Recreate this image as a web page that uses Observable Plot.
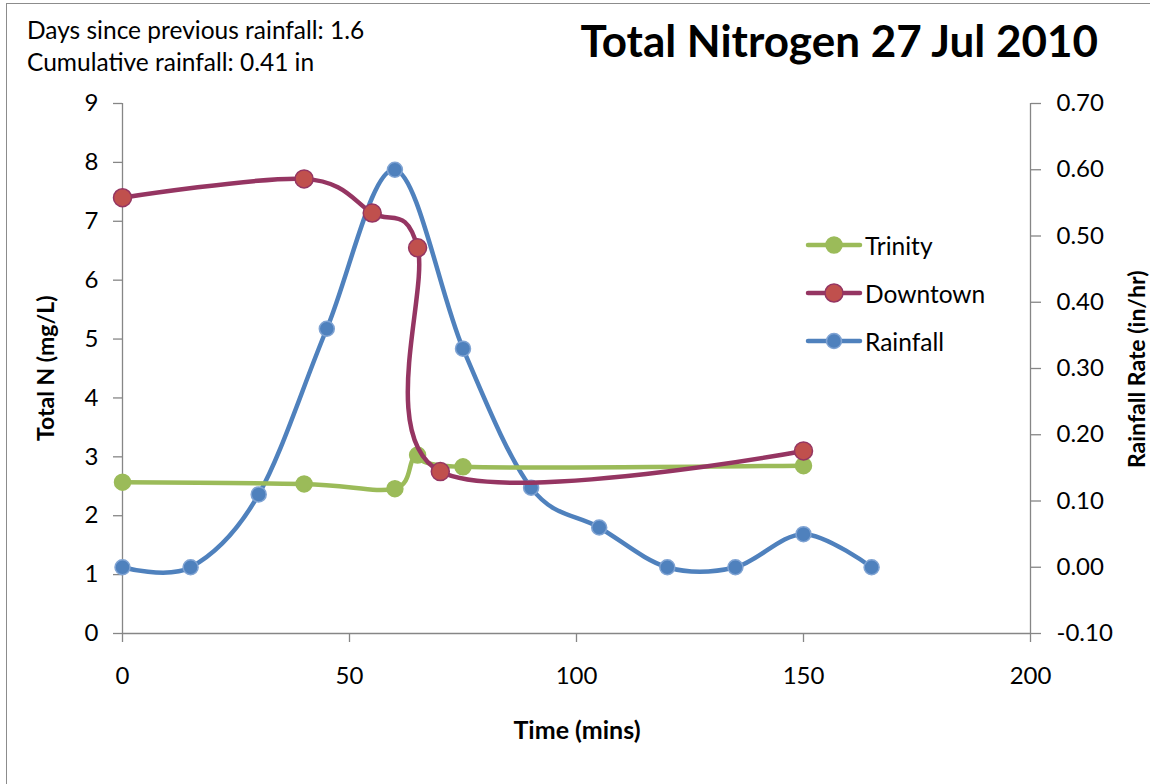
<!DOCTYPE html>
<html>
<head>
<meta charset="utf-8">
<script src="https://cdn.jsdelivr.net/npm/d3@7"></script>
<script src="https://cdn.jsdelivr.net/npm/@observablehq/plot@0.6"></script>
<style>
  html, body { margin: 0; padding: 0; background: #fff; }
  #wrap { position: relative; width: 1150px; height: 784px; overflow: hidden; background: #fff; font-family: Lato, "Open Sans", sans-serif; color: #000; }
  #border { position: absolute; left: 6px; top: 3px; width: 1200px; height: 900px; border: 1.5px solid #8c8c8c; box-sizing: border-box; }
  #chart { position: absolute; left: 0; top: 0; }
  #notes { position: absolute; left: 27px; top: 14px; font-size: 24.5px; line-height: 32px; white-space: nowrap; }
  #title { position: absolute; right: 52px; top: 14px; font-size: 44px; font-weight: bold; white-space: nowrap; }
  .ylab { position: absolute; top: 370px; font-size: 23px; line-height: 1; font-weight: bold; white-space: nowrap; transform-origin: 0 0; }
  #xlab { position: absolute; left: 577px; top: 714px; transform: translateX(-50%); font-size: 25px; font-weight: bold; white-space: nowrap; }
  #legend { position: absolute; left: 805px; top: 221px; }
  .lrow { display: flex; align-items: center; height: 48px; font-size: 24.5px; }
  .lrow svg { margin-right: 2px; }
</style>
</head>
<body>
<div id="wrap">
  <div id="border"></div>
  <div id="chart"></div>
  <div id="notes"></div>
  <div id="title"></div>
  <div id="ylabL" class="ylab"></div>
  <div id="ylabR" class="ylab"></div>
  <div id="xlab"></div>
  <div id="legend"></div>
</div>
<script>
// ---- Data ----
const titleText = "Total Nitrogen 27 Jul 2010";
const notesText = ["Days since previous rainfall: 1.6", "Cumulative rainfall: 0.41 in"];
const xLabel = "Time (mins)";
const yLabelLeft = "Total N (mg/L)";
const yLabelRight = "Rainfall Rate (in/hr)";

const seriesNames = ["Trinity", "Downtown", "Rainfall"];

const trinityTime = [0, 40, 60, 65, 75, 150];
const trinityN    = [2.57, 2.54, 2.46, 3.03, 2.83, 2.85];

const downtownTime = [0, 40, 55, 65, 70, 150];
const downtownN    = [7.40, 7.72, 7.14, 6.55, 2.75, 3.10];

const rainTime = [0, 15, 30, 45, 60, 75, 90, 105, 120, 135, 150, 165];
const rainRate = [0.00, 0.00, 0.11, 0.36, 0.60, 0.33, 0.12, 0.06, 0.00, 0.00, 0.05, 0.00];

const xTicks = [0, 50, 100, 150, 200];
const yTicksLeft = [0, 1, 2, 3, 4, 5, 6, 7, 8, 9];
const yTicksRight = [-0.10, 0.00, 0.10, 0.20, 0.30, 0.40, 0.50, 0.60, 0.70];

// ---- Styles ----
const colors = {
  Trinity:  { line: "#9BBB59", fill: "#9BBB59", stroke: "#9BBB59", r: 8 },
  Downtown: { line: "#953562", fill: "#C0504D", stroke: "#953562", r: 9 },
  Rainfall: { line: "#4F81BD", fill: "#4F81BD", stroke: "#7FA3D3", r: 7.5 }
};

// secondary axis mapping (right axis -0.10..0.70 onto left 0..9)
const leftMin = yTicksLeft[0], leftMax = yTicksLeft[yTicksLeft.length - 1];
const rightMin = yTicksRight[0], rightMax = yTicksRight[yTicksRight.length - 1];
const toLeft = r => leftMin + (r - rightMin) / (rightMax - rightMin) * (leftMax - leftMin);
const fromLeft = v => rightMin + (v - leftMin) / (leftMax - leftMin) * (rightMax - rightMin);

const trinity = trinityTime.map((t, i) => ({ t, v: trinityN[i] }));
const downtown = downtownTime.map((t, i) => ({ t, v: downtownN[i] }));
const rain = rainTime.map((t, i) => ({ t, v: toLeft(rainRate[i]) }));

function seriesMarks(data, c) {
  return [
    Plot.line(data, { x: "t", y: "v", curve: "cardinal", stroke: c.line, strokeWidth: 4.5, strokeLinecap: "round", strokeLinejoin: "round" }),
    Plot.dot(data, { x: "t", y: "v", r: c.r, fill: c.fill, stroke: c.stroke, strokeWidth: 1.5 })
  ];
}

const axisColor = "#868686";

const chart = Plot.plot({
  width: 1150,
  height: 784,
  marginLeft: 122,
  marginRight: 120,
  marginTop: 103,
  marginBottom: 151,
  style: { fontFamily: "Lato, 'Open Sans', sans-serif", fontSize: "24px", color: "#000", background: "transparent" },
  x: { domain: [xTicks[0], xTicks[xTicks.length - 1]], axis: null },
  y: { domain: [leftMin, leftMax], axis: null },
  marks: [
    Plot.ruleX([xTicks[0]], { stroke: axisColor, strokeWidth: 1.3 }),
    Plot.ruleX([xTicks[xTicks.length - 1]], { stroke: axisColor, strokeWidth: 1.3 }),
    Plot.ruleY([leftMin], { stroke: axisColor, strokeWidth: 1.3 }),
    Plot.axisY(yTicksLeft, { anchor: "left", tickSize: 9, tickPadding: 15, stroke: axisColor, fill: "#000", label: null, strokeWidth: 1.3,
      tickFormat: d => String(d) }),
    Plot.axisY(yTicksRight.map(toLeft), { anchor: "right", tickSize: 10, tickPadding: 16, stroke: axisColor, fill: "#000", label: null, strokeWidth: 1.3,
      tickFormat: d => { const v = Math.round(fromLeft(d) * 100) / 100; return (Math.abs(v) < 1e-9 ? 0 : v).toFixed(2); } }),
    Plot.axisX(xTicks, { anchor: "bottom", tickSize: 9, tickPadding: 24, stroke: axisColor, fill: "#000", label: null, strokeWidth: 1.3,
      tickFormat: d => String(d) }),
    ...seriesMarks(rain, colors.Rainfall),
    ...seriesMarks(trinity, colors.Trinity),
    ...seriesMarks(downtown, colors.Downtown)
  ]
});
document.getElementById("chart").appendChild(chart);

// ---- Text ----
document.getElementById("title").textContent = titleText;
document.getElementById("notes").innerHTML = notesText.map(s => `<div>${s}</div>`).join("");
document.getElementById("xlab").textContent = xLabel;

const yl = document.getElementById("ylabL");
yl.textContent = yLabelLeft;
const yr = document.getElementById("ylabR");
yr.textContent = yLabelRight;
function placeRotated(el, cx, cy) {
  const w = el.offsetWidth, h = el.offsetHeight;
  el.style.left = (cx - h / 2) + "px";
  el.style.top = (cy + w / 2) + "px";
  el.style.transform = "rotate(-90deg)";
}
placeRotated(yl, 45, 368);
placeRotated(yr, 1136, 369);

// ---- Legend ----
const legend = document.getElementById("legend");
seriesNames.forEach(name => {
  const c = colors[name];
  const row = document.createElement("div");
  row.className = "lrow";
  row.innerHTML = `<svg width="58" height="22"><line x1="3" y1="11" x2="55" y2="11" stroke="${c.line}" stroke-width="4.5" stroke-linecap="round"/><circle cx="29" cy="11" r="${c.r}" fill="${c.fill}" stroke="${c.stroke}" stroke-width="1.5"/></svg><span>${name}</span>`;
  legend.appendChild(row);
});
</script>
</body>
</html>
